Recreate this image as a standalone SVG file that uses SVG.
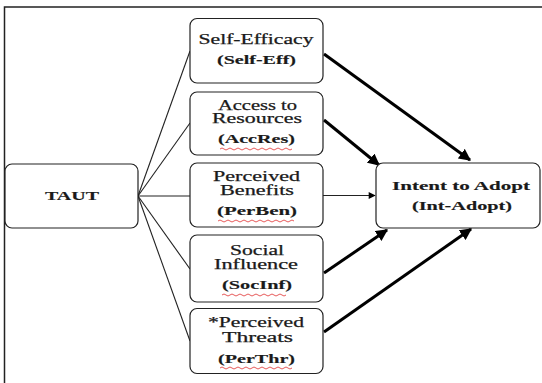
<svg xmlns="http://www.w3.org/2000/svg" width="542" height="383" viewBox="0 0 542 383">
<defs>
<style>
.box{fill:#fff;stroke:#222;stroke-width:1.2}
.t{font-family:"Liberation Serif","Times New Roman",serif;font-size:14px;fill:#1a1a1a;stroke:#1a1a1a;stroke-width:0.25;text-anchor:middle}
.b{font-weight:bold;font-size:13.5px;stroke-width:0.15}
.thin{stroke:#222;stroke-width:1.1;fill:none}
.thick{stroke:#000;stroke-width:3;fill:none}
.wave{stroke:#e03030;stroke-width:0.8;fill:none}
</style>
<marker id="ah" viewBox="0 0 10 10" refX="9" refY="5" markerWidth="4" markerHeight="4" orient="auto" markerUnits="strokeWidth">
<path d="M0,0 L10,5 L0,10 z" fill="#000"/>
</marker>
<marker id="ah2" viewBox="0 0 10 10" refX="9" refY="5" markerWidth="8" markerHeight="7" orient="auto" markerUnits="userSpaceOnUse">
<path d="M0,0 L10,5 L0,10 z" fill="#000"/>
</marker>
</defs>
<rect width="542" height="383" fill="#fff"/>
<path d="M4.5,383 V7 H542" stroke="#222" stroke-width="1.5" fill="none"/>
<g id="connectors">
<path class="thin" d="M138,196 L190,51"/>
<path class="thin" d="M138,196 L190,123"/>
<path class="thin" d="M138,196 L190,196"/>
<path class="thin" d="M138,196 L190,269"/>
<path class="thin" d="M138,196 L190,341"/>
<path class="thick" d="M324,54 L470,160" marker-end="url(#ah)"/>
<path class="thick" d="M324,120 L379,165" marker-end="url(#ah)"/>
<path class="thin" stroke-width="1.4" d="M323,195.5 L375,195.5" marker-end="url(#ah2)"/>
<path class="thick" d="M324,273 L387,230" marker-end="url(#ah)"/>
<path class="thick" d="M324,332 L471,229" marker-end="url(#ah)"/>
</g>
<g id="taut">
<rect class="box" x="5" y="164" width="133" height="64" rx="7"/>
<text class="t b" x="72" y="200" textLength="54" lengthAdjust="spacingAndGlyphs">TAUT</text>
</g>
<g id="selfeff">
<rect class="box" x="190" y="18.5" width="133" height="64.5" rx="7"/>
<text class="t" x="256" y="44" textLength="115" lengthAdjust="spacingAndGlyphs">Self-Efficacy</text>
<text class="t b" x="256.5" y="64" textLength="79" lengthAdjust="spacingAndGlyphs">(Self-Eff)</text>
</g>
<g id="accres">
<rect class="box" x="190" y="92" width="133" height="63" rx="7"/>
<text class="t" x="257.5" y="109.5" textLength="79" lengthAdjust="spacingAndGlyphs">Access to</text>
<text class="t" x="257" y="123" textLength="90" lengthAdjust="spacingAndGlyphs">Resources</text>
<text class="t b" x="256.5" y="143" textLength="77" lengthAdjust="spacingAndGlyphs">(AccRes)</text>
<path class="wave" d="M220,149 q2,-2 4,0 t4,0 t4,0 t4,0 t4,0 t4,0 t4,0 t4,0 t4,0 t4,0 t4,0 t4,0 t4,0 t4,0 t4,0 t4,0 t4,0 t4,0"/>
</g>
<g id="perben">
<rect class="box" x="190" y="163" width="133" height="64" rx="7"/>
<text class="t" x="256.5" y="181" textLength="87" lengthAdjust="spacingAndGlyphs">Perceived</text>
<text class="t" x="257" y="195" textLength="74" lengthAdjust="spacingAndGlyphs">Benefits</text>
<text class="t b" x="257" y="215" textLength="80" lengthAdjust="spacingAndGlyphs">(PerBen)</text>
<path class="wave" d="M218,221 q2,-2 4,0 t4,0 t4,0 t4,0 t4,0 t4,0 t4,0 t4,0 t4,0 t4,0 t4,0 t4,0 t4,0 t4,0 t4,0 t4,0 t4,0 t4,0 t4,0"/>
</g>
<g id="socinf">
<rect class="box" x="190" y="235" width="133" height="67" rx="7"/>
<text class="t" x="257" y="255" textLength="54" lengthAdjust="spacingAndGlyphs">Social</text>
<text class="t" x="256" y="269" textLength="84" lengthAdjust="spacingAndGlyphs">Influence</text>
<text class="t b" x="257" y="289" textLength="70" lengthAdjust="spacingAndGlyphs">(SocInf)</text>
<path class="wave" d="M222,295 q2,-2 4,0 t4,0 t4,0 t4,0 t4,0 t4,0 t4,0 t4,0 t4,0 t4,0 t4,0 t4,0 t4,0 t4,0 t4,0 t4,0"/>
</g>
<g id="perthr">
<rect class="box" x="190" y="308.5" width="133" height="65" rx="7"/>
<text class="t" x="256" y="327" textLength="96" lengthAdjust="spacingAndGlyphs">*Perceived</text>
<text class="t" x="257.5" y="342" textLength="71" lengthAdjust="spacingAndGlyphs">Threats</text>
<text class="t b" x="256.5" y="363" textLength="77" lengthAdjust="spacingAndGlyphs">(PerThr)</text>
<path class="wave" d="M220,368 q2,-2 4,0 t4,0 t4,0 t4,0 t4,0 t4,0 t4,0 t4,0 t4,0 t4,0 t4,0 t4,0 t4,0 t4,0 t4,0 t4,0 t4,0 t4,0"/>
</g>
<g id="intent">
<rect class="box" x="376" y="163" width="164" height="65" rx="7"/>
<text class="t b" x="461" y="190" textLength="138" lengthAdjust="spacingAndGlyphs">Intent to Adopt</text>
<text class="t b" x="462" y="210" textLength="100" lengthAdjust="spacingAndGlyphs">(Int-Adopt)</text>
</g>
</svg>
